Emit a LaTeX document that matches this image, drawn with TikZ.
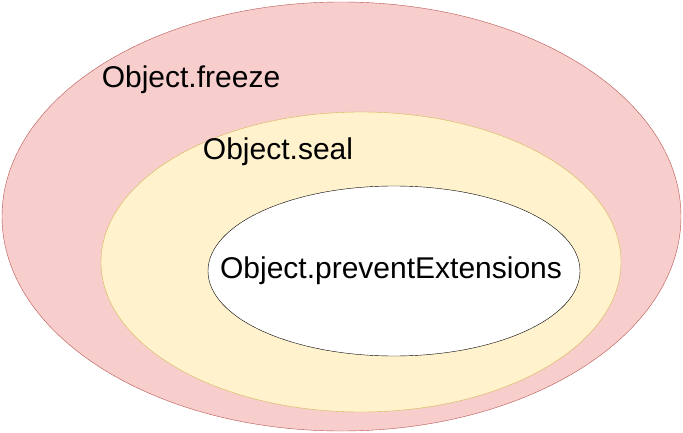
\documentclass[tikz,border=0pt]{standalone}
\usepackage{fontspec}
\setmainfont{Liberation Sans}
\usetikzlibrary{shapes.geometric}

\definecolor{freezefill}{HTML}{F8CECC}
\definecolor{freezeline}{HTML}{B85450}
\definecolor{sealfill}{HTML}{FFF2CC}
\definecolor{sealline}{HTML}{D6B656}

\begin{document}
\begin{tikzpicture}[
  x=1pt, y=-1pt,
  set/.style={draw, ellipse, inner sep=0pt},
  lbl/.style={font=\fontsize{30}{34}\selectfont, inner sep=0pt}
]
\useasboundingbox (0,0) rectangle (683,433);

% Nested sets
\node[set, fill=freezefill, draw=freezeline, minimum width=679pt, minimum height=429pt] (freeze) at (341.5,216.5) {};
\node[set, fill=sealfill, draw=sealline, minimum width=520pt, minimum height=300pt] (seal) at (361,262) {};
\node[set, fill=white, draw=black, minimum width=372pt, minimum height=170pt] (prevent) at (394,271) {};

% Labels
\node[lbl] (freezelbl) at (191,80) {Object.freeze};
\node[lbl] (seallbl) at (278,152) {Object.seal};
\node[lbl] (preventlbl) at (391,271) {Object.preventExtensions};
\end{tikzpicture}
\end{document}
